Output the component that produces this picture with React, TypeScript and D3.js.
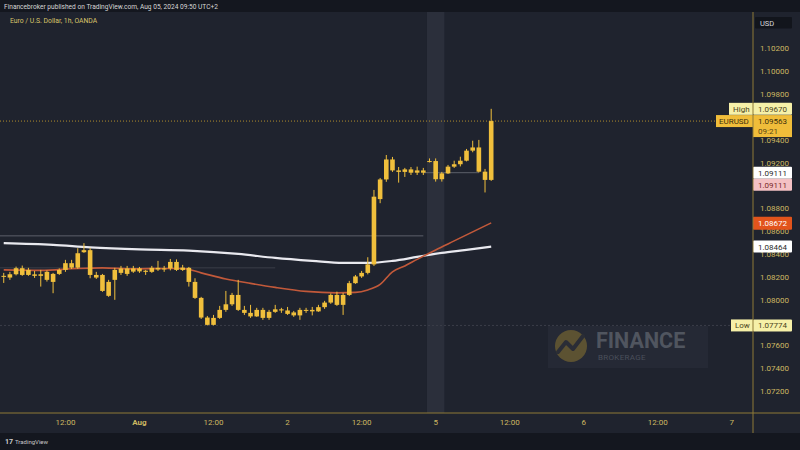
import React from "react";
import * as d3 from "d3";

const W = 800;
const H = 450;

// EURUSD 1h candles (OANDA), times in UTC+2
const times = [
  "2024-07-31T02:00", "2024-07-31T03:00", "2024-07-31T04:00", "2024-07-31T05:00", "2024-07-31T06:00",
  "2024-07-31T07:00", "2024-07-31T08:00", "2024-07-31T09:00", "2024-07-31T10:00", "2024-07-31T11:00",
  "2024-07-31T12:00", "2024-07-31T13:00", "2024-07-31T14:00", "2024-07-31T15:00", "2024-07-31T16:00",
  "2024-07-31T17:00", "2024-07-31T18:00", "2024-07-31T19:00", "2024-07-31T20:00", "2024-07-31T21:00",
  "2024-07-31T22:00", "2024-07-31T23:00",
  "2024-08-01T00:00", "2024-08-01T01:00", "2024-08-01T02:00", "2024-08-01T03:00", "2024-08-01T04:00",
  "2024-08-01T05:00", "2024-08-01T06:00", "2024-08-01T07:00", "2024-08-01T08:00", "2024-08-01T09:00",
  "2024-08-01T10:00", "2024-08-01T11:00", "2024-08-01T12:00", "2024-08-01T13:00", "2024-08-01T14:00",
  "2024-08-01T15:00", "2024-08-01T16:00", "2024-08-01T17:00", "2024-08-01T18:00", "2024-08-01T19:00",
  "2024-08-01T20:00", "2024-08-01T21:00", "2024-08-01T22:00", "2024-08-01T23:00",
  "2024-08-02T00:00", "2024-08-02T01:00", "2024-08-02T02:00", "2024-08-02T03:00", "2024-08-02T04:00",
  "2024-08-02T05:00", "2024-08-02T06:00", "2024-08-02T07:00", "2024-08-02T08:00", "2024-08-02T09:00",
  "2024-08-02T10:00", "2024-08-02T11:00", "2024-08-02T12:00", "2024-08-02T13:00", "2024-08-02T14:00",
  "2024-08-02T15:00", "2024-08-02T16:00", "2024-08-02T17:00", "2024-08-02T18:00", "2024-08-02T19:00",
  "2024-08-02T20:00", "2024-08-02T21:00", "2024-08-02T22:00",
  "2024-08-04T23:00",
  "2024-08-05T00:00", "2024-08-05T01:00", "2024-08-05T02:00", "2024-08-05T03:00", "2024-08-05T04:00",
  "2024-08-05T05:00", "2024-08-05T06:00", "2024-08-05T07:00", "2024-08-05T08:00", "2024-08-05T09:00",
];

const opens = [
  1.08199, 1.08193, 1.08222, 1.08275, 1.08216, 1.08221, 1.08208, 1.08243, 1.08155, 1.08225,
  1.08260, 1.08319, 1.08280, 1.08415, 1.08433, 1.08216, 1.08216, 1.08155, 1.08173, 1.08234,
  1.08273, 1.08245,
  1.08273, 1.08253, 1.08243, 1.08278, 1.08264, 1.08273, 1.08330, 1.08260, 1.08278, 1.08155,
  1.08015, 1.07843, 1.07779, 1.07840, 1.07910, 1.07959, 1.08041, 1.07910, 1.07884, 1.07853,
  1.07910, 1.07840, 1.07893, 1.07915,
  1.07905, 1.07862, 1.07910, 1.07901, 1.07910, 1.07897, 1.07934, 1.07974, 1.08041, 1.07954,
  1.08041, 1.08144, 1.08203, 1.08234, 1.08308, 1.08880, 1.09052, 1.09227, 1.09131, 1.09118,
  1.09140, 1.09111, 1.09131,
  1.09210,
  1.09213, 1.09054, 1.09105, 1.09164, 1.09185, 1.09216, 1.09304, 1.09332, 1.09120, 1.09048,
];

const highs = [
  1.08234, 1.08243, 1.08289, 1.08298, 1.08278, 1.08251, 1.08260, 1.08256, 1.08234, 1.08273,
  1.08348, 1.08348, 1.08450, 1.08494, 1.08453, 1.08243, 1.08225, 1.08173, 1.08278, 1.08295,
  1.08295, 1.08295,
  1.08286, 1.08260, 1.08295, 1.08339, 1.08295, 1.08356, 1.08352, 1.08304, 1.08286, 1.08187,
  1.08024, 1.07857, 1.07866, 1.07945, 1.08076, 1.08059, 1.08173, 1.07945, 1.07954, 1.07928,
  1.07928, 1.07910, 1.07954, 1.07928,
  1.07936, 1.07901, 1.07928, 1.07928, 1.07936, 1.07954, 1.07989, 1.08054, 1.08070, 1.08059,
  1.08164, 1.08216, 1.08251, 1.08371, 1.08960, 1.09065, 1.09266, 1.09249, 1.09161, 1.09153,
  1.09161, 1.09164, 1.09153,
  1.09236,
  1.09236, 1.09118, 1.09179, 1.09216, 1.09251, 1.09319, 1.09391, 1.09398, 1.09144, 1.09670,
];

const lows = [
  1.08146, 1.08173, 1.08212, 1.08208, 1.08208, 1.08190, 1.08114, 1.08158, 1.08056, 1.08216,
  1.08243, 1.08268, 1.08269, 1.08409, 1.08187, 1.08181, 1.08068, 1.08024, 1.07998, 1.08216,
  1.08208, 1.08234,
  1.08234, 1.08216, 1.08234, 1.08251, 1.08243, 1.08256, 1.08251, 1.08251, 1.08114, 1.08006,
  1.07831, 1.07774, 1.07774, 1.07831, 1.07893, 1.07945, 1.07901, 1.07866, 1.07840, 1.07849,
  1.07823, 1.07823, 1.07884, 1.07884,
  1.07866, 1.07849, 1.07823, 1.07884, 1.07862, 1.07893, 1.07919, 1.07963, 1.07945, 1.07866,
  1.08033, 1.08138, 1.08190, 1.08221, 1.08295, 1.08844, 1.09031, 1.09118, 1.09024, 1.09074,
  1.09091, 1.09091, 1.09091,
  1.09201,
  1.09033, 1.09033, 1.09100, 1.09153, 1.09166, 1.09210, 1.09290, 1.09113, 1.08938, 1.09039,
];

const closes = [
  1.08208, 1.08222, 1.08275, 1.08216, 1.08260, 1.08208, 1.08222, 1.08173, 1.08225, 1.08260,
  1.08319, 1.08280, 1.08406, 1.08433, 1.08216, 1.08193, 1.08076, 1.08033, 1.08260, 1.08273,
  1.08225, 1.08273,
  1.08247, 1.08243, 1.08278, 1.08264, 1.08273, 1.08330, 1.08260, 1.08280, 1.08155, 1.08015,
  1.07843, 1.07779, 1.07840, 1.07910, 1.07959, 1.08041, 1.07910, 1.07884, 1.07853, 1.07910,
  1.07840, 1.07893, 1.07915, 1.07905,
  1.07875, 1.07888, 1.07862, 1.07910, 1.07897, 1.07934, 1.07974, 1.08041, 1.07954, 1.08041,
  1.08144, 1.08203, 1.08234, 1.08308, 1.08901, 1.09052, 1.09227, 1.09131, 1.09118, 1.09140,
  1.09111, 1.09131, 1.09111,
  1.09213,
  1.09054, 1.09105, 1.09164, 1.09185, 1.09216, 1.09304, 1.09332, 1.09120, 1.09048, 1.09563,
];

// 200-period SMA (white)
const smaTimes = [
  "2024-07-31T02:00", "2024-07-31T10:00", "2024-07-31T16:00", "2024-08-01T00:00", "2024-08-01T08:00",
  "2024-08-01T16:00", "2024-08-01T22:00", "2024-08-02T04:00", "2024-08-02T09:00", "2024-08-02T13:00",
  "2024-08-02T17:00", "2024-08-02T21:00", "2024-08-05T01:00", "2024-08-05T05:00", "2024-08-05T09:00",
];
const smaValues = [
  1.08494, 1.08479, 1.08457, 1.08439, 1.08429,
  1.08400, 1.08365, 1.08339, 1.08321, 1.08321,
  1.08339, 1.08374, 1.08409, 1.08435, 1.08464,
];

// 50-period EMA (orange)
const emaTimes = [
  "2024-07-31T02:00", "2024-07-31T08:00", "2024-07-31T14:00", "2024-07-31T18:00", "2024-07-31T23:00",
  "2024-08-01T04:00", "2024-08-01T07:00", "2024-08-01T10:00", "2024-08-01T14:00", "2024-08-01T18:00",
  "2024-08-01T22:00", "2024-08-02T03:00", "2024-08-02T08:00", "2024-08-02T11:00", "2024-08-02T13:00",
  "2024-08-02T15:00", "2024-08-02T17:00", "2024-08-02T19:00", "2024-08-02T21:00", "2024-08-05T00:00",
  "2024-08-05T03:00", "2024-08-05T06:00", "2024-08-05T09:00",
];
const emaValues = [
  1.08260, 1.08256, 1.08273, 1.08278, 1.08269,
  1.08273, 1.08273, 1.08234, 1.08181, 1.08142,
  1.08107, 1.08072, 1.08059, 1.08063, 1.08085,
  1.08133, 1.08243, 1.08295, 1.08352, 1.08435,
  1.08514, 1.08593, 1.08672,
];

// Horizontal reference levels
const levelPrices = [1.08558, 1.08278, 1.09111];
const levelStarts = ["2024-07-31T00:00", "2024-07-31T00:00", "2024-08-02T22:00"];
const levelEnds = ["2024-08-02T22:00", "2024-08-01T22:00", "2024-08-05T07:00"];

const priceTicks = [
  1.072, 1.074, 1.076, 1.078, 1.08, 1.082, 1.084, 1.086, 1.088,
  1.09, 1.092, 1.094, 1.096, 1.098, 1.1, 1.102,
];

const timeTickTimes = [
  "2024-07-31T12:00", "2024-08-01T00:00", "2024-08-01T12:00", "2024-08-02T00:00", "2024-08-02T12:00",
  "2024-08-05T00:00", "2024-08-05T12:00", "2024-08-06T00:00", "2024-08-06T12:00", "2024-08-07T00:00",
];
const timeTickLabels = ["12:00", "Aug", "12:00", "2", "12:00", "5", "12:00", "6", "12:00", "7"];

// Weekend session shading
const shadeStart = "2024-08-04T23:00";
const shadeEnd = "2024-08-05T01:00";

// Trading hours only: weekend hours are removed from the time axis
const BASE = Date.UTC(2024, 6, 31, 3);
const GAP_START = Date.UTC(2024, 7, 2, 23);
const GAP_HOURS = 48;
function slot(t: string): number {
  const ms = Date.parse(t + ":00Z");
  let h = (ms - BASE) / 3600000;
  if (ms >= GAP_START) h -= GAP_HOURS;
  return h;
}

const FONT = "Roboto, 'Liberation Sans', Arial, sans-serif";
const GOLD = "#f0bf3c";
const AXIS_TEXT = "#cdb862";
const BG = "#1f232e";
const DARK = "#14171f";

const PLOT_RIGHT = 753;
const PLOT_TOP = 12;
const PLOT_BOTTOM = 413;

export default function App() {
  const x = d3.scaleLinear().domain([0, 78]).range([9.9, 491.2]);
  const y = d3.scaleLinear().domain([1.072, 1.102]).range([391, 48.3]);
  const candleW = 4.6;

  const fmt = (v: number) => v.toFixed(5);

  const smaLine = d3
    .line<number>()
    .x((_, i) => x(slot(smaTimes[i])))
    .y((d) => y(d))
    .curve(d3.curveMonotoneX);
  const emaLine = d3
    .line<number>()
    .x((_, i) => x(slot(emaTimes[i])))
    .y((d) => y(d))
    .curve(d3.curveMonotoneX);

  const last = closes.length - 1;
  const hi = d3.max(highs) as number;
  const lo = d3.min(lows) as number;
  const lastClose = closes[last];
  const fridayIdx = times.indexOf("2024-08-02T22:00");
  const prevClose = closes[fridayIdx];
  const emaLast = emaValues[emaValues.length - 1];
  const smaLast = smaValues[smaValues.length - 1];

  const boxX = PLOT_RIGHT;
  const boxW = 39;

  // vertical spans taken by the price-axis markers; a tick label whose
  // centre falls under a marker is not drawn
  const markerSpans: [number, number][] = [
    [y(hi) - 6, y(hi) + 6],
    [y(lastClose) - 6, y(lastClose) + 16],
    [y(prevClose) - 6, y(prevClose) + 18],
    [y(emaLast) - 6, y(emaLast) + 7],
    [y(smaLast) - 6, y(smaLast) + 6],
    [y(lo) - 6, y(lo) + 6],
  ];
  const tickVisible = (p: number) => {
    const ty = y(p);
    return !markerSpans.some(([a, b]) => ty > a && ty < b);
  };

  const priceBox = (
    key: string,
    price: number,
    fill: string,
    color: string,
    dy = 0,
    h = 12
  ) => {
    const cy = y(price) + dy;
    return (
      <g key={key}>
        <rect x={boxX} y={cy - 6} width={boxW} height={h} fill={fill} rx={1} />
        <text
          x={boxX + 5}
          y={cy + 3}
          fontSize={8}
          fill={color}
          fontFamily={FONT}
        >
          {fmt(price)}
        </text>
      </g>
    );
  };

  return (
    <div style={{ position: "fixed", left: 0, top: 0, width: W, height: H }}>
      <svg width={W} height={H} style={{ display: "block" }}>
        <rect x={0} y={0} width={W} height={H} fill={BG} />
        {/* header */}
        <rect x={0} y={0} width={W} height={PLOT_TOP} fill={DARK} />
        <text x={4} y={8.5} fontSize={6.6} fill="#d6d6d6" fontFamily={FONT}>
          Financebroker published on TradingView.com, Aug 05, 2024 09:50 UTC+2
        </text>
        <text x={10} y={23} fontSize={6.8} fill="#d9c46a" fontFamily={FONT}>
          Euro / U.S. Dollar, 1h, OANDA
        </text>

        {/* weekend session shading */}
        <rect
          x={x(slot(shadeStart)) - 2.5}
          y={PLOT_TOP}
          width={x(slot(shadeEnd)) - x(slot(shadeStart)) + 5}
          height={PLOT_BOTTOM - PLOT_TOP}
          fill="#2b2f3b"
        />

        {/* watermark */}
        <g>
          <rect x={548} y={326} width={160} height={42} fill="#252935" />
          <circle cx={571} cy={346} r={16} fill="#5c5232" />
          <path
            d="M558,352 L566,342 L573,349 L583,336"
            fill="none"
            stroke="#2a2d36"
            strokeWidth={4}
            strokeLinecap="round"
            strokeLinejoin="round"
          />
          <text x={596} y={348} fontSize={21.5} fontWeight="bold" fill="#50555f" fontFamily={FONT}>
            FINANCE
          </text>
          <text x={598} y={360} fontSize={8} fill="#4a4f5b" fontFamily={FONT} letterSpacing={0.3}>
            BROKERAGE
          </text>
        </g>

        {/* reference levels */}
        {levelPrices.map((p, i) => (
          <line
            key={"lv" + i}
            x1={Math.max(0, x(slot(levelStarts[i])))}
            x2={x(slot(levelEnds[i]))}
            y1={y(p)}
            y2={y(p)}
            stroke={i === 1 ? "#3a3d48" : "#5d606b"}
            strokeWidth={1}
          />
        ))}
        {/* low line */}
        <line x1={0} x2={PLOT_RIGHT} y1={y(lo)} y2={y(lo)} stroke="#3b3e49" strokeWidth={1} strokeDasharray="2,2" />
        {/* last price line */}
        <line
          x1={0}
          x2={PLOT_RIGHT}
          y1={y(lastClose)}
          y2={y(lastClose)}
          stroke="#b08c2c"
          strokeWidth={1}
          strokeDasharray="1,2"
        />

        {/* moving averages */}
        <path d={smaLine(smaValues) || ""} fill="none" stroke="#e9e9ef" strokeWidth={2.2} />
        <path d={emaLine(emaValues) || ""} fill="none" stroke="#c2593a" strokeWidth={1.6} />

        {/* candles */}
        {times.map((t, i) => {
          const cx = x(slot(t));
          const top = y(Math.max(opens[i], closes[i]));
          const bot = y(Math.min(opens[i], closes[i]));
          return (
            <g key={t}>
              <line x1={cx} x2={cx} y1={y(highs[i])} y2={y(lows[i])} stroke={GOLD} strokeWidth={1} />
              <rect
                x={cx - candleW / 2}
                y={top}
                width={candleW}
                height={Math.max(1, bot - top)}
                fill={GOLD}
              />
            </g>
          );
        })}

        {/* price axis */}
        <rect x={PLOT_RIGHT} y={PLOT_TOP} width={W - PLOT_RIGHT} height={PLOT_BOTTOM - PLOT_TOP} fill={BG} />
        {priceTicks.filter(tickVisible).map((p) => (
          <text
            key={"pt" + p}
            x={760}
            y={y(p) + 3}
            fontSize={8}
            fill={AXIS_TEXT}
            fontFamily={FONT}
          >
            {fmt(p)}
          </text>
        ))}
        <rect x={755} y={17} width={37} height={11.5} fill="#12151c" rx={1} />
        <text x={760} y={25.5} fontSize={7.5} fill="#d8d8dc" fontFamily={FONT}>
          USD
        </text>

        {/* price axis markers */}
        <rect x={729} y={y(hi) - 6} width={24} height={12} fill="#f6f0a8" />
        <text x={733} y={y(hi) + 3} fontSize={8} fill="#4a4520" fontFamily={FONT}>
          High
        </text>
        {priceBox("hi", hi, "#f6f0a8", "#4a4520")}

        <rect x={716} y={y(lastClose) - 6} width={37} height={12} fill="#f0bd3a" />
        <text x={719} y={y(lastClose) + 3} fontSize={8} fill="#3b2f0c" fontFamily={FONT}>
          EURUSD
        </text>
        <rect x={boxX} y={y(lastClose) - 6} width={boxW} height={22} fill="#f0bd3a" />
        <text x={boxX + 5} y={y(lastClose) + 3} fontSize={8} fill="#3b2f0c" fontFamily={FONT}>
          {fmt(lastClose)}
        </text>
        <text x={boxX + 5} y={y(lastClose) + 13} fontSize={8} fill="#5a4712" fontFamily={FONT}>
          09:21
        </text>

        {priceBox("pc", prevClose, "#ffffff", "#2a2a2a")}
        {priceBox("pc2", prevClose, "#f4c1c4", "#7a2a2a", 12)}
        {priceBox("ema", emaLast, "#e2541c", "#ffffff", 0, 13)}
        {priceBox("sma", smaLast, "#ffffff", "#2a2a2a")}

        <rect x={731} y={y(lo) - 6} width={22} height={12} fill="#f6f0a8" />
        <text x={735} y={y(lo) + 3} fontSize={8} fill="#4a4520" fontFamily={FONT}>
          Low
        </text>
        {priceBox("lo", lo, "#f6f0a8", "#4a4520")}

        {/* axis lines */}
        <line x1={PLOT_RIGHT} x2={PLOT_RIGHT} y1={PLOT_TOP} y2={433} stroke="#8f7a36" strokeWidth={1} />
        <line x1={0} x2={W} y1={PLOT_BOTTOM} y2={PLOT_BOTTOM} stroke="#8f7a36" strokeWidth={1} />

        {/* time axis */}
        {timeTickTimes.map((t, i) => (
          <text
            key={"tt" + t}
            x={x(slot(t))}
            y={425}
            fontSize={8}
            textAnchor="middle"
            fill={AXIS_TEXT}
            fontWeight={timeTickLabels[i] === "Aug" ? "bold" : "normal"}
            fontFamily={FONT}
          >
            {timeTickLabels[i]}
          </text>
        ))}

        {/* footer */}
        <rect x={0} y={433} width={W} height={H - 433} fill={DARK} />
        <text x={5} y={444} fontSize={7} fontWeight="bold" fill="#d0d0d0" fontFamily={FONT}>
          17
        </text>
        <text x={15} y={444} fontSize={6} fill="#c8c8c8" fontFamily={FONT}>
          TradingView
        </text>
      </svg>
    </div>
  );
}
